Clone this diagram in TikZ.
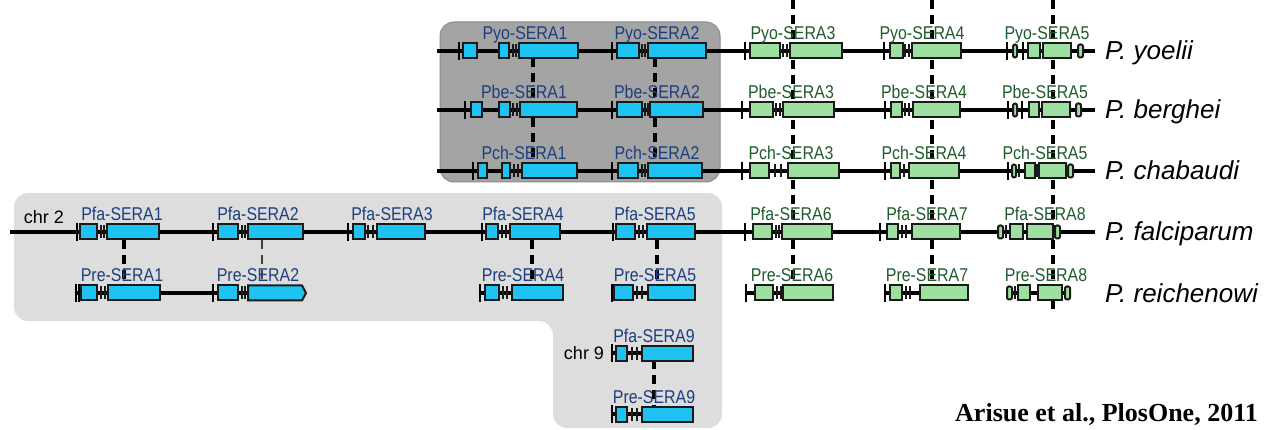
\documentclass[tikz,border=0pt]{standalone}
\usepackage{fontspec}
\setmainfont{Liberation Sans}
\newfontfamily\narrowfont[FakeStretch=0.86]{Liberation Sans}
\newfontfamily\citefont{Liberation Serif}
\definecolor{exB}{HTML}{1EC3F2}
\definecolor{exG}{HTML}{9FE0A2}
\definecolor{labB}{HTML}{1C3F7E}
\definecolor{labG}{HTML}{1F5B2C}
\definecolor{dbox}{HTML}{A4A4A4}
\definecolor{lbox}{HTML}{DDDDDD}
\definecolor{outl}{HTML}{1A1A1A}
\tikzset{
  chrom/.style={line width=3.4pt, black},
  bex/.style={draw=outl, line width=2pt, fill=exB},
  gex/.style={draw=outl, line width=2pt, fill=exG},
  tk/.style={line width=2.2pt, black},
  pr/.style={line width=1.4pt, outl},
  orth/.style={line width=3.2pt, black, dash pattern=on 9pt off 6pt},
  orththin/.style={line width=1.4pt, black!75, dash pattern=on 9pt off 6pt},
  blab/.style={anchor=base, text=labB, font=\narrowfont\fontsize{18.5}{20}\selectfont, inner sep=0pt},
  glab/.style={anchor=base, text=labG, font=\narrowfont\fontsize{18.5}{20}\selectfont, inner sep=0pt},
  spec/.style={anchor=base west, font=\fontsize{26}{28}\selectfont\itshape, inner sep=0pt},
  chrlab/.style={anchor=base, font=\fontsize{18}{20}\selectfont, inner sep=0pt},
}
\newcommand\ex[3]{\foreach \a/\b in {#3}{\draw[#1] (\a,#2-7.5) rectangle (\b,#2+7.5);}}
\newcommand\sm[3]{\foreach \a/\b in {#3}{\draw[#1, rounded corners=2pt] (\a,#2-6.5) rectangle (\b,#2+6.5);}}
\newcommand\tk[2]{\foreach \t in {#2}{\draw[tk] (\t,#1-9) -- (\t,#1+9);}}
\newcommand\pr[2]{\foreach \t in {#2}{\draw[pr] (\t,#1-6.5) -- (\t,#1+6.5);}}
\begin{document}
\begin{tikzpicture}[x=1pt,y=-1pt]
\useasboundingbox (0,0) rectangle (1266,430);
% background panels
\fill[lbox, rounded corners=14pt] (14,193) -- (722,193) -- (722,428) -- (553,428) -- (553,321) -- (14,321) -- cycle;
\filldraw[fill=dbox, draw=dbox!85!black, line width=1pt, rounded corners=14pt] (440,22) rectangle (720,182);
% orthology connectors
\coordinate (o1t) at (533,58);  \coordinate (o1b) at (533,164);
\coordinate (o2t) at (655,58);  \coordinate (o2b) at (655,164);
\coordinate (o3t) at (793,0);   \coordinate (o3b) at (793,300);
\coordinate (o4t) at (932,0);   \coordinate (o4b) at (932,300);
\coordinate (o5t) at (1053,0);  \coordinate (o5b) at (1053,310);
\coordinate (p1t) at (124,240); \coordinate (p1b) at (124,300);
\coordinate (p2t) at (262,240); \coordinate (p2b) at (262,300);
\coordinate (p4t) at (532,240); \coordinate (p4b) at (532,300);
\coordinate (p5t) at (657,240); \coordinate (p5b) at (657,300);
\coordinate (p9t) at (654,360); \coordinate (p9b) at (654,407);
\foreach \n in {o1,o2,o3,o4,o5,p1,p4,p5,p9}{\draw[orth] (\n t) -- (\n b);}
\draw[orththin] (p2t) -- (p2b);
% chromosome lines
\draw[chrom] (437,51) -- (1095,51);
\draw[chrom] (437,110) -- (1095,110);
\draw[chrom] (437,171) -- (1095,171);
\draw[chrom] (10,232) -- (1095,232);
\foreach \a/\b in {77/303,480/563,612/695,746/833,885/968,1007/1070}{\draw[chrom] (\a,293) -- (\b,293);}
\draw[chrom] (612,353) -- (693,353);
\draw[chrom] (612,414) -- (693,414);
% ---- P. yoelii (y=51)
\tk{51}{459,612,745,884,1007,1023}
\ex{bex}{51}{463/477,499/509,519/578}\pr{51}{513,516}
\ex{bex}{51}{617/639,648/706}\pr{51}{642,645}
\ex{gex}{51}{750/780,790/842}\pr{51}{783,787}
\ex{gex}{51}{890/903,912/961}\pr{51}{905,909}
\sm{gex}{51}{1013/1017,1078/1083}\ex{gex}{51}{1028/1040,1043/1071}
% ---- P. berghei (y=110)
\tk{110}{465,612,742,885,1008,1022}
\ex{bex}{110}{471/482,499/510,520/577}\pr{110}{513,517}
\ex{bex}{110}{617/642,650/703}\pr{110}{645,648}
\ex{gex}{110}{750/773,783/834}\pr{110}{776,780}
\ex{gex}{110}{891/902,913/960}\pr{110}{905,909}
\sm{gex}{110}{1013/1017,1076/1081}\ex{gex}{110}{1029/1039,1042/1070}
% ---- P. chabaudi (y=171)
\tk{171}{473,612,742,885,1008}
\ex{bex}{171}{478/487,502/510,522/577}\pr{171}{514,518}
\ex{bex}{171}{618/638,648/702}\pr{171}{642,645}
\ex{gex}{171}{750/769,788/839}\pr{171}{775,781}
\ex{gex}{171}{891/900,909/959}\pr{171}{904}
\sm{gex}{171}{1012/1016,1068/1073}\pr{171}{1019,1037}\ex{gex}{171}{1025/1035,1039/1066}
% ---- P. falciparum chr 2 (y=232)
\tk{232}{77,213,348,482,613,745,880}
\ex{bex}{232}{80/97,107/159}\pr{232}{101,104}
\ex{bex}{232}{218/238,248/303}\pr{232}{242,245}
\ex{bex}{232}{353/365,377/425}\pr{232}{368,373}
\ex{bex}{232}{486/498,510/560}\pr{232}{502,506}
\ex{bex}{232}{616/635,647/695}\pr{232}{639,643}
\ex{gex}{232}{753/772,782/832}\pr{232}{776,779}
\ex{gex}{232}{887/898,912/960}\pr{232}{902,906}
\sm{gex}{232}{998/1003,1055/1060}\pr{232}{1006}\ex{gex}{232}{1010/1023,1027/1053}
% ---- P. reichenowi (y=293)
\tk{293}{76,79,213,480,612,746,885}
\ex{bex}{293}{81/97,108/160}\pr{293}{101,105}
\ex{bex}{293}{218/238}\pr{293}{242,245}
\draw[bex] (248,285.5) -- (302,285.5) -- (306,293) -- (302,300.5) -- (248,300.5) -- cycle;
\ex{bex}{293}{485/499,512/563}\pr{293}{503,507}
\ex{bex}{293}{614/633,648/695}\pr{293}{637,642}
\ex{gex}{293}{755/773,783/833}\pr{293}{777,781}
\ex{gex}{293}{890/902,920/968}\pr{293}{906,910}
\sm{gex}{293}{1007/1012,1065/1070}\pr{293}{1015}\ex{gex}{293}{1018/1030,1038/1062}
% ---- SERA9 (chr 9)
\tk{353}{612}\ex{bex}{353}{616/627,642/693}\pr{353}{632,637}
\tk{414}{612}\ex{bex}{414}{616/627,642/693}\pr{414}{632,637}
% gene labels
\node[blab] (lpyo1) at (525,40) {Pyo-SERA1};
\node[blab] (lpyo2) at (657,40) {Pyo-SERA2};
\node[glab] (lpyo3) at (793,40) {Pyo-SERA3};
\node[glab] (lpyo4) at (922,40) {Pyo-SERA4};
\node[glab] (lpyo5) at (1047,40) {Pyo-SERA5};
\node[blab] (lpbe1) at (524,99) {Pbe-SERA1};
\node[blab] (lpbe2) at (657,99) {Pbe-SERA2};
\node[glab] (lpbe3) at (791,99) {Pbe-SERA3};
\node[glab] (lpbe4) at (924,99) {Pbe-SERA4};
\node[glab] (lpbe5) at (1045,99) {Pbe-SERA5};
\node[blab] (lpch1) at (524,160) {Pch-SERA1};
\node[blab] (lpch2) at (657,160) {Pch-SERA2};
\node[glab] (lpch3) at (791,160) {Pch-SERA3};
\node[glab] (lpch4) at (924,160) {Pch-SERA4};
\node[glab] (lpch5) at (1045,160) {Pch-SERA5};
\node[blab] (lpfa1) at (122,221) {Pfa-SERA1};
\node[blab] (lpfa2) at (258,221) {Pfa-SERA2};
\node[blab] (lpfa3) at (392,221) {Pfa-SERA3};
\node[blab] (lpfa4) at (523,221) {Pfa-SERA4};
\node[blab] (lpfa5) at (655,221) {Pfa-SERA5};
\node[glab] (lpfa6) at (791,221) {Pfa-SERA6};
\node[glab] (lpfa7) at (927,221) {Pfa-SERA7};
\node[glab] (lpfa8) at (1045,221) {Pfa-SERA8};
\node[blab] (lpre1) at (122,282) {Pre-SERA1};
\node[blab] (lpre2) at (258,282) {Pre-SERA2};
\node[blab] (lpre4) at (523,282) {Pre-SERA4};
\node[blab] (lpre5) at (655,282) {Pre-SERA5};
\node[glab] (lpre6) at (792,282) {Pre-SERA6};
\node[glab] (lpre7) at (927,282) {Pre-SERA7};
\node[glab] (lpre8) at (1046,282) {Pre-SERA8};
\node[blab] (lpfa9) at (654,342) {Pfa-SERA9};
\node[blab] (lpre9) at (654,403) {Pre-SERA9};
% chromosome labels
\node[chrlab] (chr2) at (44,224) {chr 2};
\node[chrlab] (chr9) at (584,359) {chr 9};
% species
\node[spec] (sp1) at (1105,60) {P. yoelii};
\node[spec] (sp2) at (1105,119) {P. berghei};
\node[spec] (sp3) at (1105,180) {P. chabaudi};
\node[spec] (sp4) at (1105,241) {P. falciparum};
\node[spec] (sp5) at (1105,302) {P. reichenowi};
% citation
\node[anchor=base east, inner sep=0pt, font=\citefont\bfseries\fontsize{26}{28}\selectfont] (cite) at (1258,421) {Arisue et al., PlosOne, 2011};
\end{tikzpicture}
\end{document}
